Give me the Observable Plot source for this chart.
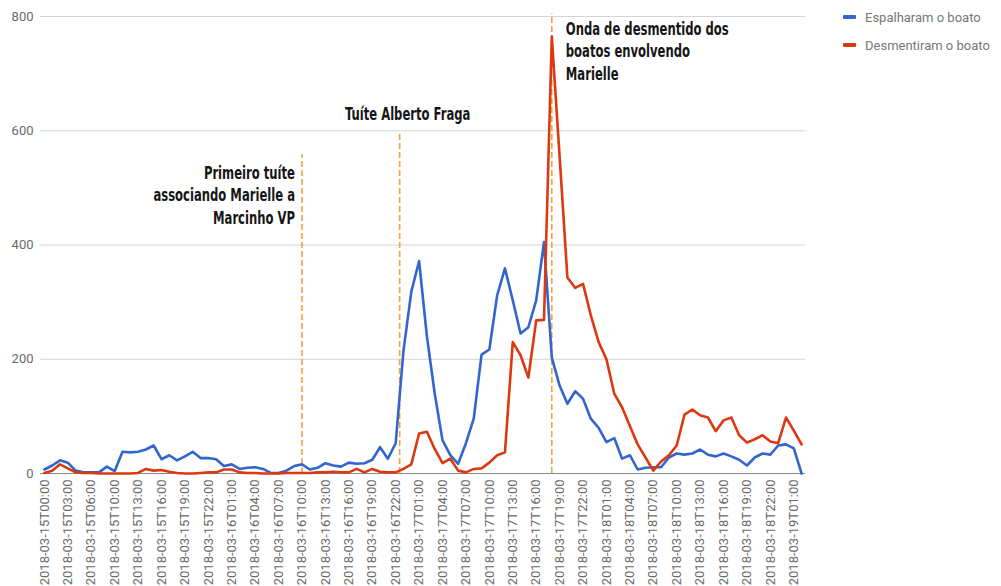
<!DOCTYPE html>
<html>
<head>
<meta charset="utf-8">
<script src="https://cdn.jsdelivr.net/npm/d3@7"></script>
<script src="https://cdn.jsdelivr.net/npm/@observablehq/plot@0.6"></script>
<style>
  html, body { margin: 0; padding: 0; background: #fff; }
  #wrap { position: relative; width: 1001px; height: 586px; }
  #legend { position: absolute; left: 843px; top: 8px; font-family: Roboto, sans-serif; font-size: 13px; color: #777; }
  .item { display: flex; align-items: center; height: 18px; margin-bottom: 10px; }
  .sw { width: 13px; height: 4px; margin-right: 9px; border-radius: 1px; }
</style>
</head>
<body>
<div id="wrap"><div id="legend"></div></div>
<script>
const categories = [
  "2018-03-15T00:00","2018-03-15T01:00","2018-03-15T02:00","2018-03-15T03:00","2018-03-15T04:00","2018-03-15T05:00","2018-03-15T06:00","2018-03-15T07:00","2018-03-15T08:00",
  "2018-03-15T10:00","2018-03-15T11:00","2018-03-15T12:00","2018-03-15T13:00","2018-03-15T14:00","2018-03-15T15:00","2018-03-15T16:00","2018-03-15T17:00","2018-03-15T18:00","2018-03-15T19:00","2018-03-15T20:00","2018-03-15T21:00","2018-03-15T22:00","2018-03-15T23:00",
  "2018-03-16T00:00","2018-03-16T01:00","2018-03-16T02:00","2018-03-16T03:00","2018-03-16T04:00","2018-03-16T05:00","2018-03-16T06:00","2018-03-16T07:00","2018-03-16T08:00","2018-03-16T09:00","2018-03-16T10:00","2018-03-16T11:00",
  "2018-03-16T12:00","2018-03-16T13:00","2018-03-16T14:00","2018-03-16T15:00","2018-03-16T16:00","2018-03-16T17:00","2018-03-16T18:00","2018-03-16T19:00","2018-03-16T20:00","2018-03-16T21:00","2018-03-16T22:00","2018-03-16T23:00",
  "2018-03-17T00:00","2018-03-17T01:00","2018-03-17T02:00","2018-03-17T03:00","2018-03-17T04:00","2018-03-17T05:00","2018-03-17T06:00","2018-03-17T07:00","2018-03-17T08:00","2018-03-17T09:00","2018-03-17T10:00","2018-03-17T11:00",
  "2018-03-17T12:00","2018-03-17T13:00","2018-03-17T14:00","2018-03-17T15:00","2018-03-17T16:00","2018-03-17T17:00","2018-03-17T18:00","2018-03-17T19:00","2018-03-17T20:00","2018-03-17T21:00","2018-03-17T22:00","2018-03-17T23:00",
  "2018-03-18T00:00","2018-03-18T01:00","2018-03-18T02:00","2018-03-18T03:00","2018-03-18T04:00","2018-03-18T05:00","2018-03-18T06:00","2018-03-18T07:00","2018-03-18T08:00","2018-03-18T09:00","2018-03-18T10:00","2018-03-18T11:00",
  "2018-03-18T12:00","2018-03-18T13:00","2018-03-18T14:00","2018-03-18T15:00","2018-03-18T16:00","2018-03-18T17:00","2018-03-18T18:00","2018-03-18T19:00","2018-03-18T20:00","2018-03-18T21:00","2018-03-18T22:00","2018-03-18T23:00",
  "2018-03-19T00:00","2018-03-19T01:00","2018-03-19T02:00"
];

const espalharam = [
  7,14,23,19,5,2,2,2,12,4,
  38,37,38,42,49,25,32,23,30,38,
  27,27,25,13,16,8,10,11,8,1,
  1,5,13,16,7,10,18,14,12,19,
  17,18,24,46,26,53,215,318,372,240,
  140,58,32,17,53,96,208,217,312,359,
  303,245,256,303,405,203,154,122,144,131,
  96,80,55,62,26,32,7,10,11,11,
  28,35,33,35,42,33,30,35,30,24,
  14,28,35,33,49,51,44,0
];

const desmentiram = [
  1,5,16,9,2,1,1,0,0,0,
  0,0,1,8,5,6,3,1,0,0,
  1,2,2,7,7,2,1,1,0,0,
  0,1,1,1,1,2,2,3,2,2,
  8,2,8,3,2,2,8,16,70,73,
  43,18,26,5,2,8,9,19,32,37,
  230,207,168,268,269,765,555,343,325,332,
  277,230,200,140,116,83,51,28,5,21,
  32,49,103,112,102,98,74,93,98,67,
  54,60,67,56,53,98,75,51
];

const seriesNames = ["Espalharam o boato", "Desmentiram o boato"];
const seriesColors = ["#3366cc", "#dc3912"];
const yTicks = [0, 200, 400, 600, 800];
const xTicks = categories.filter((d, i) => i % 3 === 0 && i <= 96);

// annotation events: category, top of dashed rule (value), label text, label value position
const eventTimes = ["2018-03-16T10:00", "2018-03-16T22:00", "2018-03-17T18:00"];
const eventTops = [558, 597, 805];
const eventLabels = [
  "Primeiro tuíte\nassociando Marielle a\nMarcinho VP",
  "Tuíte Alberto Fraga",
  "Onda de desmentido dos\nboatos envolvendo\nMarielle"
];
const eventLabelY = [489, 632, 741];

const rows = (vals) => categories.map((c, i) => ({t: c, v: vals[i]}));
const events = eventTimes.map((t, i) => ({t, top: eventTops[i], label: eventLabels[i], ly: eventLabelY[i]}));

const annFont = {fontFamily: "'Liberation Sans Narrow', 'DejaVu Sans Condensed', sans-serif", fontWeight: "bold", fontSize: 17, lineHeight: 1.32, fill: "#161616", lineAnchor: "middle"};

const chart = Plot.plot({
  width: 1001,
  height: 586,
  marginLeft: 40,
  marginRight: 196,
  marginTop: 16,
  marginBottom: 113,
  style: {fontFamily: "Roboto, sans-serif", fontSize: "13px", color: "#6a6a6a", background: "#fff"},
  x: {type: "point", domain: categories, padding: 0.5},
  y: {domain: [0, 800]},
  marks: [
    Plot.gridY(yTicks, {stroke: "#d4d4d4", strokeOpacity: 1, strokeWidth: 1}),
    Plot.axisY({ticks: yTicks, tickSize: 0, tickPadding: 7, label: null, fontSize: 13, fill: "#6a6a6a"}),
    Plot.axisX({ticks: xTicks, tickSize: 0, tickPadding: 6, tickRotate: -90, label: null, fontSize: 13, fill: "#6a6a6a"}),
    Plot.ruleY([0], {stroke: "#888", strokeWidth: 1.2}),
    Plot.ruleX([events[0], events[2]], {x: "t", y1: 0, y2: "top", stroke: "#f0a43a", strokeWidth: 1.6, strokeDasharray: "6,3"}),
    Plot.ruleX([events[1]], {x: "t", y1: 0, y2: "top", dx: 4, stroke: "#f0a43a", strokeWidth: 1.6, strokeDasharray: "6,3"}),
    Plot.line(rows(espalharam), {x: "t", y: "v", stroke: seriesColors[0], strokeWidth: 2.6, strokeLinejoin: "round"}),
    Plot.line(rows(desmentiram), {x: "t", y: "v", stroke: seriesColors[1], strokeWidth: 2.6, strokeLinejoin: "round"}),
    Plot.text([events[0]], {x: "t", y: "ly", text: "label", textAnchor: "end", dx: -7, ...annFont}),
    Plot.text([events[1]], {x: "t", y: "ly", text: "label", textAnchor: "middle", dx: 12, ...annFont}),
    Plot.text([events[2]], {x: "t", y: "ly", text: "label", textAnchor: "start", dx: 14, ...annFont})
  ]
});

// condense the annotation lettering horizontally (the original uses a narrow typeface)
const flatLabels = eventLabels.map((s) => s.replace(/\n/g, ""));
chart.querySelectorAll("text").forEach((el) => {
  if (!flatLabels.includes(el.textContent)) return;
  const tr = el.getAttribute("transform");
  if (tr) {
    el.setAttribute("transform", tr + " scale(0.76,1)");
  } else {
    const x = +el.getAttribute("x") || 0;
    const y = +el.getAttribute("y") || 0;
    el.removeAttribute("x");
    el.removeAttribute("y");
    el.querySelectorAll("tspan").forEach((ts) => { if (ts.hasAttribute("x")) ts.setAttribute("x", 0); });
    el.setAttribute("transform", `translate(${x},${y}) scale(0.76,1)`);
  }
});

const wrap = document.getElementById("wrap");
wrap.insertBefore(chart, wrap.firstChild);

const legend = document.getElementById("legend");
seriesNames.forEach((name, i) => {
  const item = document.createElement("div");
  item.className = "item";
  const sw = document.createElement("span");
  sw.className = "sw";
  sw.style.background = seriesColors[i];
  const label = document.createElement("span");
  label.textContent = name;
  item.appendChild(sw);
  item.appendChild(label);
  legend.appendChild(item);
});
</script>
</body>
</html>
